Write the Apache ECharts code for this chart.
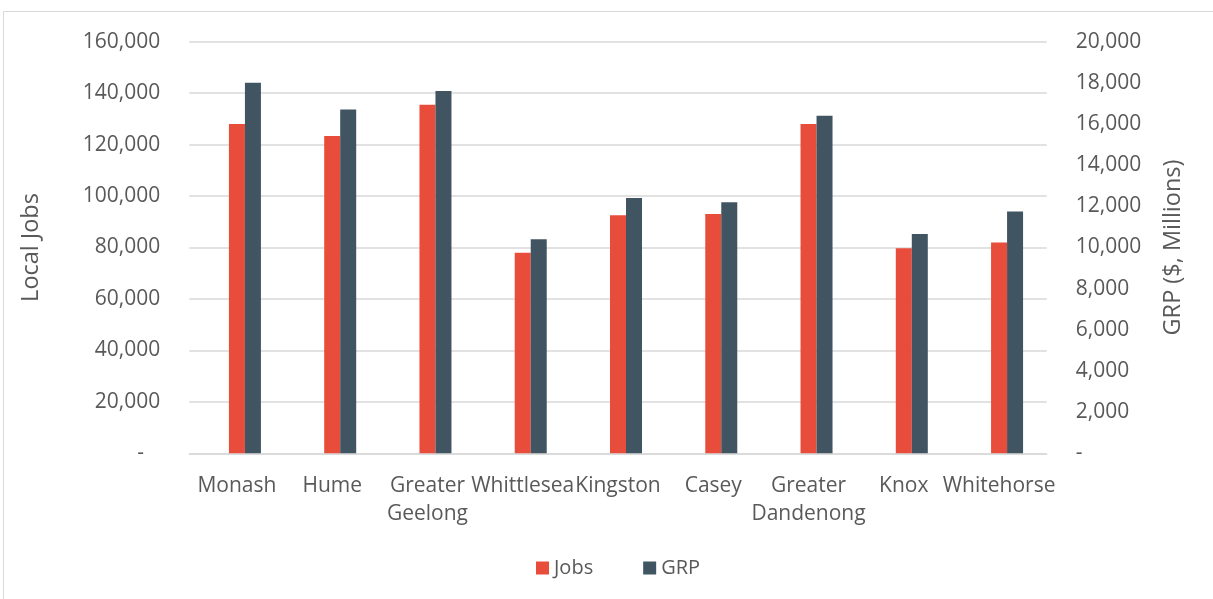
<!DOCTYPE html>
<html>
<head>
<meta charset="utf-8">
<title>Local Jobs and GRP by LGA</title>
<script src="https://cdn.jsdelivr.net/npm/echarts@6/dist/echarts.min.js"></script>
<style>
  html, body { margin: 0; padding: 0; background: #ffffff; }
  #chart { width: 1213px; height: 599px; }
</style>
</head>
<body>
<div id="chart"></div>
<script>
// Local government areas shown along the x axis
const categories = ['Monash', 'Hume', 'Greater\nGeelong', 'Whittlesea', 'Kingston', 'Casey', 'Greater\nDandenong', 'Knox', 'Whitehorse'];
// Local jobs (left axis)
const jobs = [128000, 123300, 135500, 78000, 92500, 93000, 128000, 79700, 81900];
// Gross regional product, $ millions (right axis)
const grp = [18000, 16700, 17600, 10400, 12400, 12200, 16400, 10650, 11750];

const TEXT = '#595959';
const GRID_LINE = '#d9d9d9';
const FONT = '"Open Sans", "Noto Sans", sans-serif';

const fmtLeft = v => v === 0 ? '-   ' : v.toLocaleString('en-US');
const fmtRight = v => v === 0 ? '-' : v.toLocaleString('en-US');

const chart = echarts.init(document.getElementById('chart'), null, { renderer: 'canvas' });

chart.setOption({
  backgroundColor: '#ffffff',
  animation: false,
  textStyle: { fontFamily: FONT, color: TEXT },
  graphic: [{
    type: 'rect',
    shape: { x: 3.5, y: 11.5, width: 1230, height: 620 },
    style: { fill: 'none', stroke: GRID_LINE, lineWidth: 1 },
    silent: true
  }],
  grid: { left: 189.3, right: 166.3, top: 41.7, bottom: 145.7, containLabel: false },
  legend: {
    data: ['Jobs', 'GRP'],
    left: 531,
    top: 553,
    itemWidth: 13,
    itemHeight: 13,
    itemGap: 50,
    icon: 'rect',
    textStyle: { fontFamily: FONT, fontSize: 20, color: TEXT }
  },
  xAxis: {
    type: 'category',
    data: categories,
    axisLine: { show: true, lineStyle: { color: GRID_LINE, width: 1.5 } },
    axisTick: { show: false },
    axisLabel: {
      interval: 0,
      margin: 19,
      fontFamily: FONT,
      fontSize: 21,
      lineHeight: 28,
      color: TEXT,
      hideOverlap: false
    },
    splitLine: { show: false }
  },
  yAxis: [{
    type: 'value',
    name: 'Local Jobs',
    nameLocation: 'middle',
    nameGap: 146,
    nameTextStyle: { fontFamily: FONT, fontSize: 23.5, color: TEXT },
    min: 0, max: 160000, interval: 20000,
    axisLine: { show: false },
    axisTick: { show: false },
    axisLabel: { margin: 29, fontFamily: FONT, fontSize: 21, color: TEXT, formatter: fmtLeft },
    splitLine: { show: true, lineStyle: { color: GRID_LINE, width: 1.5 } }
  }, {
    type: 'value',
    name: 'GRP ($, Millions)',
    nameLocation: 'middle',
    nameGap: 115,
    nameTextStyle: { fontFamily: FONT, fontSize: 23.5, color: TEXT },
    min: 0, max: 20000, interval: 2000,
    axisLine: { show: false },
    axisTick: { show: false },
    axisLabel: { margin: 29, fontFamily: FONT, fontSize: 21, color: TEXT, formatter: fmtRight },
    splitLine: { show: false }
  }],
  series: [{
    // empty leading slot: keeps each Jobs/GRP pair just right of the category centre
    type: 'bar',
    name: '',
    yAxisIndex: 0,
    data: [],
    barWidth: 16,
    barGap: '0%',
    silent: true
  }, {
    type: 'bar',
    name: 'Jobs',
    yAxisIndex: 0,
    data: jobs,
    barWidth: 16,
    barGap: '0%',
    itemStyle: { color: '#E84C3A' }
  }, {
    type: 'bar',
    name: 'GRP',
    yAxisIndex: 1,
    data: grp,
    barWidth: 16,
    barGap: '0%',
    itemStyle: { color: '#415462' }
  }]
});
</script>
</body>
</html>
